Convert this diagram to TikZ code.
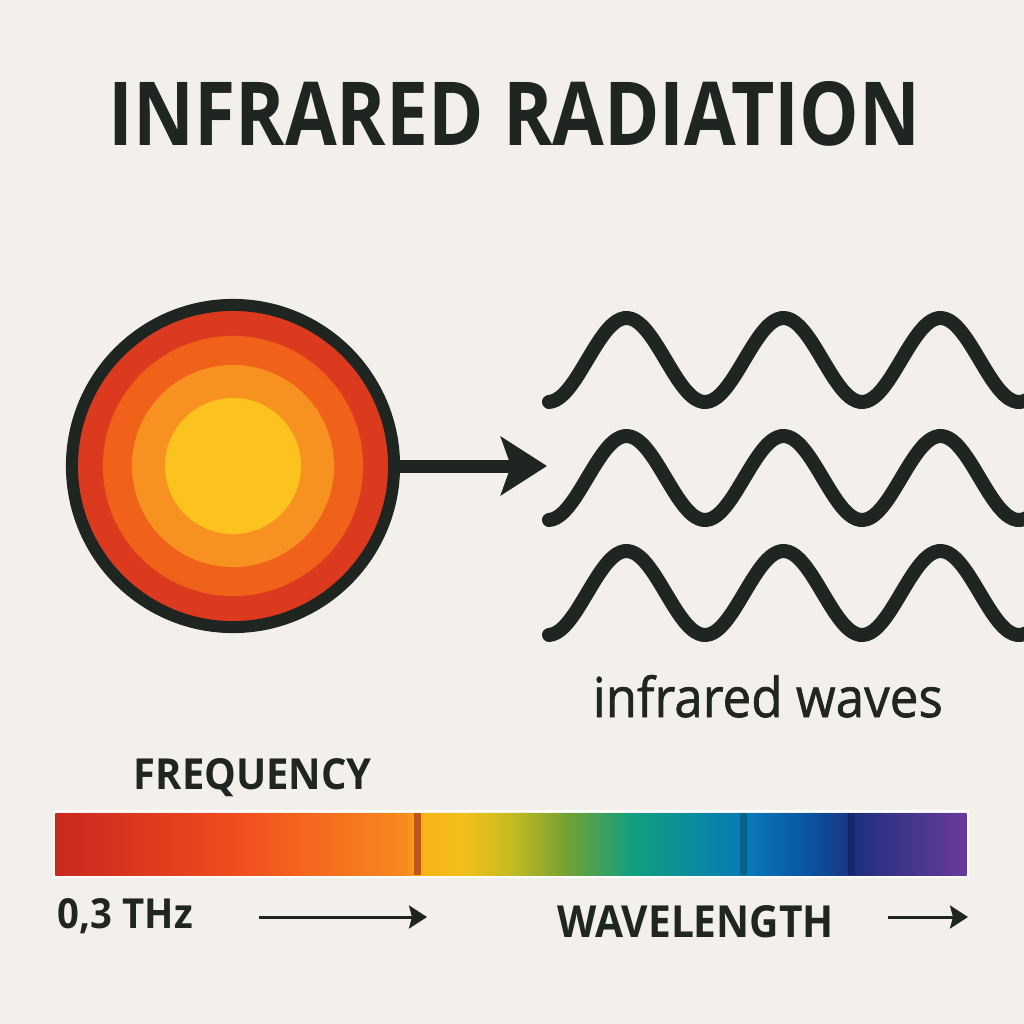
\documentclass[tikz,border=0pt]{standalone}
\usepackage{fontspec}
\setmainfont{Open Sans}
\usepackage{graphicx}
\usetikzlibrary{arrows.meta}

\definecolor{paper}{HTML}{F3F0EB}
\definecolor{ink}{HTML}{1F2622}
\definecolor{ringA}{HTML}{DC3A1E}
\definecolor{ringB}{HTML}{F0621A}
\definecolor{ringC}{HTML}{F79220}
\definecolor{ringD}{HTML}{FCC21E}
% spectrum stops, left to right
\definecolor{s0}{HTML}{C9281F}
\definecolor{s1}{HTML}{F04A1E}
\definecolor{s2}{HTML}{F88A1E}
\definecolor{s3}{HTML}{F8B418}
\definecolor{s4}{HTML}{F2C01A}
\definecolor{s5}{HTML}{C4B922}
\definecolor{s6}{HTML}{74A132}
\definecolor{s7}{HTML}{12A07E}
\definecolor{s8}{HTML}{0A88A2}
\definecolor{s9}{HTML}{0878B8}
\definecolor{s10}{HTML}{0B4C9A}
\definecolor{s11}{HTML}{20307F}
\definecolor{s12}{HTML}{6A3A9C}

\newcommand{\sizedtext}[3]{\resizebox{#1}{#2}{#3}}

\begin{document}
\begin{tikzpicture}[x=0.01cm,y=-0.01cm,
  caption/.style={ink,inner sep=0pt,anchor=base west},
  wave/.style={ink,line width=0.14cm,line cap=round},
  smallarrow/.style={ink,line width=0.03cm,-{Stealth[length=0.18cm,width=0.23cm,inset=0.03cm]}}]
  \fill[paper] (0,0) rectangle (1024,1024);
  \useasboundingbox (0,0) rectangle (1024,1024);

  \node[caption] (title) at (108,146) {\sizedtext{8.11cm}{0.64cm}{\bfseries INFRARED RADIATION}};

  % the hot body, drawn as rings
  \node[circle,draw=ink,fill=ringA,line width=0.12cm,minimum size=3.22cm,inner sep=0pt,outer sep=0pt] (sun) at (233,466) {};
  \fill[ringB] (sun.center) circle[radius=1.30cm];
  \fill[ringC] (sun.center) circle[radius=1.01cm];
  \fill[ringD] (sun.center) circle[radius=0.68cm];

  \coordinate (tip) at (547,466);
  \draw[ink,line width=0.13cm,-{Stealth[length=0.46cm,width=0.58cm,inset=0.1cm]}] (sun.east) -- (tip);

  % three wave trains
  \begin{scope}
    \clip (0,0) rectangle (1024,1024);
    \foreach \c in {360,478,593}
      \draw[wave] plot[domain=549:1045,samples=140,smooth] (\x,{\c+42*cos((\x-548)/157*360)});
  \end{scope}

  \node[caption] (wavecap) at (592,717) {\sizedtext{3.50cm}{0.42cm}{\addfontfeatures{FakeBold=1.2}infrared waves}};
  \node[caption] (freq) at (133,789) {\sizedtext{2.38cm}{0.31cm}{\bfseries FREQUENCY}};

  % spectrum bar
  \foreach \xa/\xb/\ca/\cb in {56/228/s0/s1, 228/406/s1/s2, 406/425/s2/s3, 425/465/s3/s4,
      465/513/s4/s5, 513/566/s5/s6, 566/631/s6/s7, 631/702/s7/s8, 702/750/s8/s9,
      750/821/s9/s10, 821/857/s10/s11, 857/966/s11/s12}
    \shade[left color=\ca,right color=\cb] ({\xa-0.6},813) rectangle ({\xb+0.6},875);
  \fill[s0] (56,813) rectangle (57,875);
  \foreach \d/\col in {417/B4481E, 743/0B5E7E, 851/152462}{
    \definecolor{divcol}{HTML}{\col}
    \fill[divcol,opacity=0.85] ({\d-3.5},813) rectangle ({\d+3.5},875);
  }
  \draw[white,line width=0.015cm] (54,811) rectangle (968,877);

  \node[caption] (thz) at (57,928) {\sizedtext{1.35cm}{0.30cm}{\bfseries 0,3 THz}};
  \coordinate (fa) at (259,917);
  \coordinate (fb) at (427,917);
  \draw[smallarrow] (fa) -- (fb);

  \node[caption] (wavelen) at (557,937) {\sizedtext{2.76cm}{0.32cm}{\bfseries WAVELENGTH}};
  \coordinate (wa) at (888,917);
  \coordinate (wb) at (968,917);
  \draw[smallarrow] (wa) -- (wb);
\end{tikzpicture}
\end{document}
